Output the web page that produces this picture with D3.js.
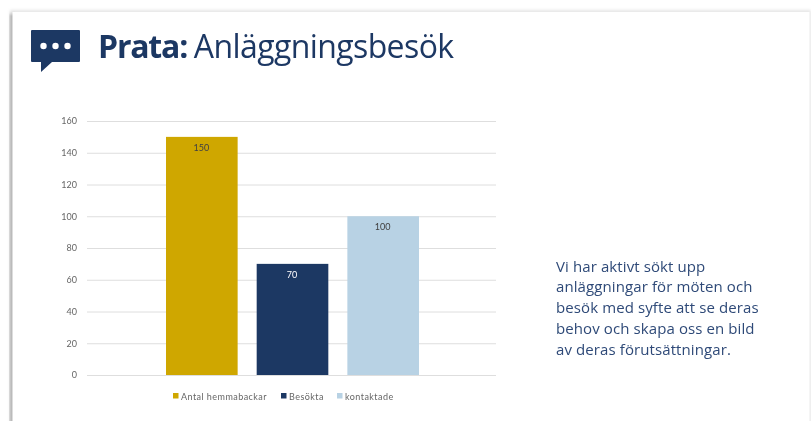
<!DOCTYPE html>
<html><head><meta charset="utf-8">
<script src="https://cdn.jsdelivr.net/npm/d3@7"></script>
<style>html,body{margin:0;padding:0;background:#fff;overflow:hidden}svg{display:block}</style>
</head><body><svg id="c" width="811" height="421"></svg>
<script>
const categories = ["Antal hemmabackar","Besökta","kontaktade"];
const values = [150,70,100];
const colors = ["#CFA704","#1F3864","#B8D2E4"];
const yTicks = [0,20,40,60,80,100,120,140,160];
const titleBold = "Prata:";
const titleRest = " Anläggningsbesök";
const bodyLines = ["Vi har aktivt sökt upp","anläggningar för möten och","besök med syfte att se deras","behov och skapa oss en bild","av deras förutsättningar."];

const svg = d3.select("#c");
const defs = svg.append("defs");
const f = defs.append("filter").attr("id","sh").attr("x","-5%").attr("y","-5%").attr("width","110%").attr("height","110%");
f.append("feGaussianBlur").attr("stdDeviation",1.6);
const soft = defs.append("filter").attr("id","soft");
soft.append("feGaussianBlur").attr("stdDeviation",0.45);

// slide with shadow: faint all round, stronger down the left edge
svg.append("rect").attr("x",10).attr("y",10).attr("width",801).attr("height",420).attr("fill","#c8c8c8").attr("filter","url(#sh)").attr("opacity",0.45);
svg.append("rect").attr("x",9.5).attr("y",14).attr("width",5).attr("height",420).attr("fill","#a8a8a8").attr("filter","url(#sh)").attr("opacity",0.8);
svg.append("rect").attr("x",12.5).attr("y",12).attr("width",797).attr("height",420).attr("fill","#fff");

const root = svg.append("g").attr("filter","url(#soft)");
const font = "Lato, 'Open Sans', sans-serif";

// icon
root.append("path").attr("fill","#1F3864")
 .attr("d","M32,30 H79 Q80,30 80,31 V61 Q80,62 79,62 H52 L41,72 V62 H32 Q31,62 31,61 V31 Q31,30 32,30 Z");
root.selectAll("circle.dot").data([43.5,55.5,67.5]).join("circle").attr("class","dot")
 .attr("cx",d=>d).attr("cy",46).attr("r",3.2).attr("fill","#fff");

// title
const t = root.append("text").attr("x",98).attr("y",58).attr("fill","#1F3864")
 .attr("font-family","'Open Sans', sans-serif").attr("font-size",32);
t.append("tspan").attr("font-weight",700).attr("letter-spacing",-1.2).text(titleBold);
t.append("tspan").attr("letter-spacing",-0.6).attr("xml:space","preserve").attr("dx",-1).text(titleRest);

// chart
const y = d3.scaleLinear().domain([0,160]).range([375,121]);
const x = d3.scaleBand().domain(categories).range([166,419]).paddingInner(0.21).paddingOuter(0);
const axis = d3.axisLeft(y).tickValues(yTicks).tickSize(0).tickPadding(10);
const ga = root.append("g").attr("transform","translate(87,0)").call(axis);
ga.select(".domain").remove();
ga.selectAll("text").attr("font-family",font).attr("font-size",9).attr("fill","#666");
ga.selectAll(".tick").append("line").attr("x1",0).attr("x2",409).attr("stroke","#dedede").attr("stroke-width",1);

root.selectAll("rect.bar").data(values).join("rect").attr("class","bar")
 .attr("x",(d,i)=>x(categories[i])).attr("width",x.bandwidth())
 .attr("y",d=>y(d)).attr("height",d=>y(0)-y(d))
 .attr("fill",(d,i)=>colors[i]);
root.selectAll("text.lab").data(values).join("text").attr("class","lab")
 .attr("x",(d,i)=>x(categories[i])+x.bandwidth()/2-0.5).attr("y",d=>y(d)+14)
 .attr("text-anchor","middle").attr("font-family",font).attr("font-size",9)
 .attr("fill",(d,i)=>i===1?"#fff":"#404040").text(d=>d);

// legend
const legendX = [173,281,337];
const lg = root.selectAll("g.lg").data(categories).join("g").attr("class","lg")
 .attr("transform",(d,i)=>`translate(${legendX[i]},393)`);
lg.append("rect").attr("width",5.5).attr("height",5.5).attr("fill",(d,i)=>colors[i]);
lg.append("text").attr("x",8).attr("y",6.5).attr("font-family",font).attr("font-size",9)
 .attr("letter-spacing",0.45).attr("fill","#666").text(d=>d);

// body text
root.append("g").selectAll("text").data(bodyLines).join("text")
 .attr("x",556).attr("y",(d,i)=>271.5+i*20.8)
 .attr("font-family","'Open Sans', sans-serif").attr("font-size",15).attr("letter-spacing",0.1).attr("fill","#2F4A78").text(d=>d);
</script></body></html>
